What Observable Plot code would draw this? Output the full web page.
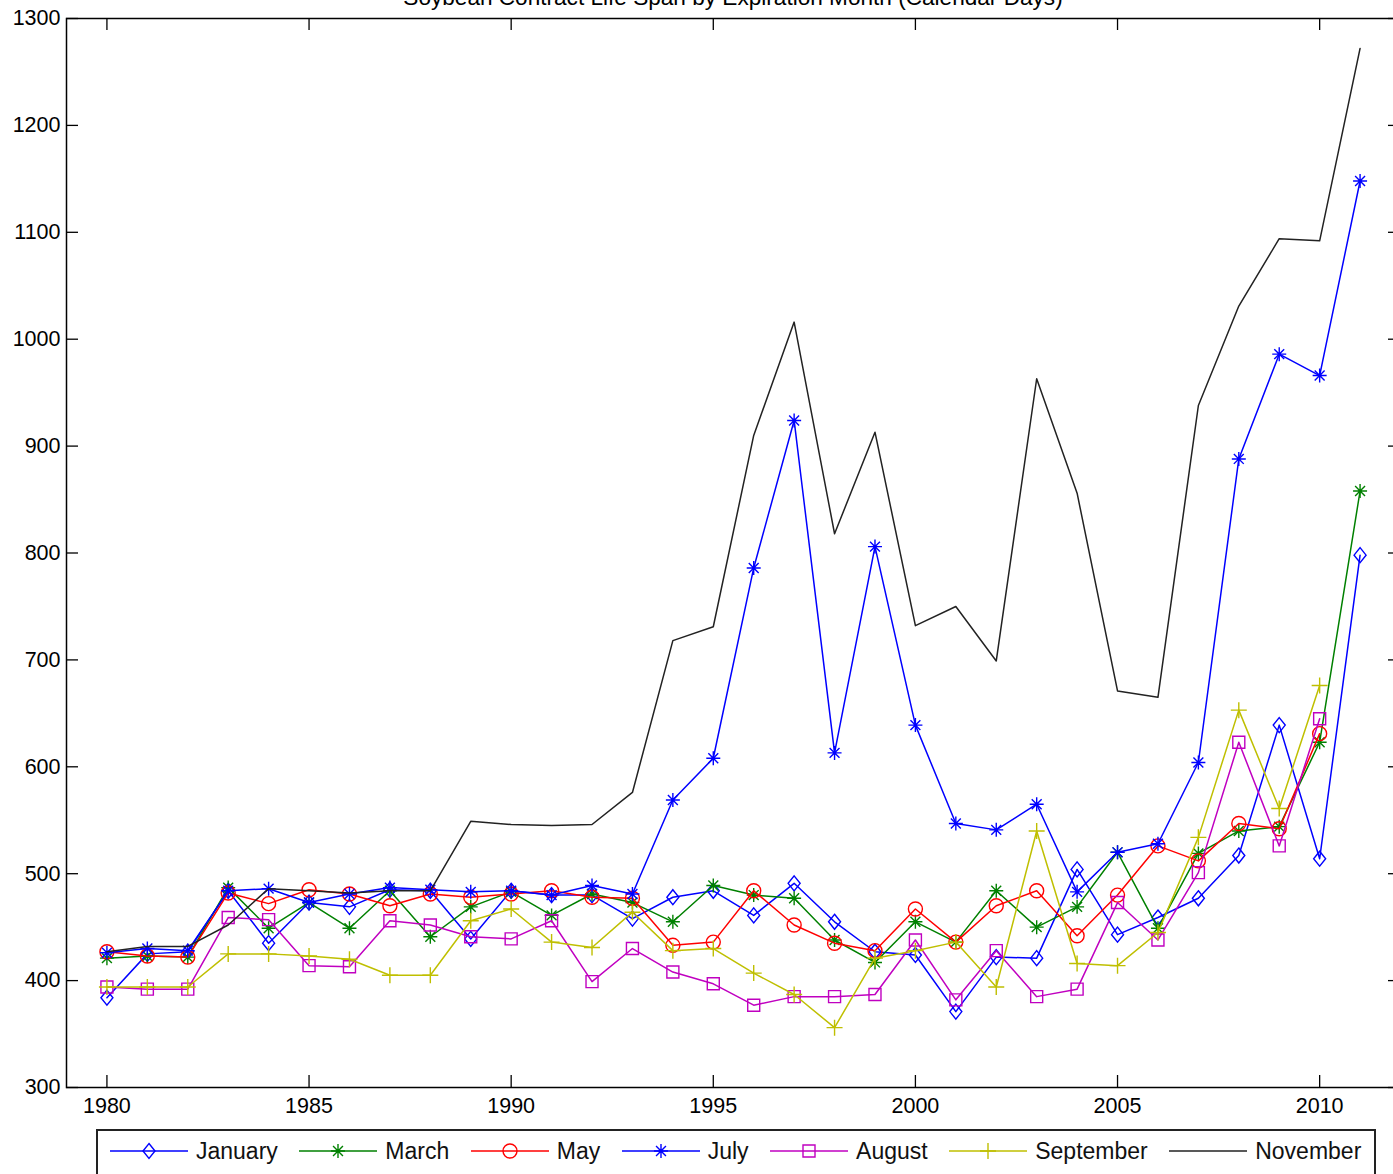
<!DOCTYPE html>
<html>
<head>
<meta charset="utf-8">
<script src="https://cdn.jsdelivr.net/npm/d3@7"></script>
<script src="https://cdn.jsdelivr.net/npm/@observablehq/plot@0.6"></script>
<style>
  html, body { margin: 0; padding: 0; background: #fff; overflow: hidden; }
  #wrap { position: relative; width: 1393px; height: 1174px; overflow: hidden; background: #fff; }
  #title { position: absolute; z-index: 5; top: -13px; left: 66px; width: 1334px; text-align: center;
           font-family: "Liberation Sans", Arial, sans-serif; font-size: 22.6px; line-height: 22.6px; color: #000; white-space: nowrap; }
  #chart { position: absolute; top: 0; left: 0; width: 1400px; z-index: 1; }
  #chart svg { max-width: none !important; }
  #legend { position: absolute; top: 1129px; left: 96px; width: 1264px; height: 44px;
            border: 2px solid #222; box-sizing: content-box; display: flex; align-items: center;
            padding: 0 0 0 12px; margin: 0;
            font-family: "Liberation Sans", Arial, sans-serif; font-size: 23px; color: #111; }
  #legend .item { display: flex; align-items: center; margin-right: 21.5px; height: 30px; margin-top: -4px; }
  #legend svg { display: block; margin-right: 8px; }
</style>
</head>
<body>
<div id="wrap">
  <div id="chart"></div>
  <div id="title">Soybean Contract Life Span by Expiration Month (Calendar Days)</div>
  <div id="legend"></div>
</div>
<script>
// ---- data ----
const years = d3.range(1980, 2012);
const seriesNames = ["January", "March", "May", "July", "August", "September", "November"];
const january   = [384, 425, 427, 484, 435, 473, 469, 485, 484, 439, 484, 480, 480, 458, 478, 484, 461, 491, 455, 427, 424, 371, 422, 421, 504, 443, 459, 477, 517, 639, 514, 798];
const march     = [421, 423, 422, 487, 449, 473, 449, 484, 441, 469, 483, 461, 481, 473, 455, 489, 480, 477, 438, 417, 455, 436, 484, 450, 469, 520, 449, 519, 540, 544, 623, 858];
const may       = [427, 423, 422, 482, 472, 485, 481, 470, 481, 478, 481, 484, 478, 477, 433, 436, 484, 452, 435, 428, 467, 436, 470, 484, 442, 480, 526, 512, 547, 542, 631];
const july      = [426, 430, 428, 484, 486, 473, 481, 487, 485, 483, 484, 480, 489, 481, 569, 608, 786, 924, 613, 806, 639, 547, 541, 565, 483, 520, 528, 604, 888, 986, 966, 1148];
const august    = [394, 392, 392, 459, 457, 414, 413, 456, 452, 441, 439, 456, 399, 430, 408, 397, 377, 385, 385, 387, 438, 382, 428, 385, 392, 473, 438, 501, 623, 526, 645];
const september = [394, 394, 394, 425, 425, 423, 420, 405, 405, 456, 467, 436, 431, 464, 428, 430, 407, 387, 356, 421, 428, 436, 394, 540, 416, 414, 445, 534, 653, 561, 676];
const november  = [427, 432, 432, 452, 486, 484, 482, 484, 484, 549, 546, 545, 546, 576, 718, 731, 910, 1016, 818, 913, 732, 750, 699, 963, 856, 671, 665, 938, 1031, 1094, 1092, 1272];
const xTicks = [1980, 1985, 1990, 1995, 2000, 2005, 2010];
const yTicks = [300, 400, 500, 600, 700, 800, 900, 1000, 1100, 1200, 1300];

// ---- marker shapes (MATLAB-like) ----
const symDiamond = {draw(c, size) { const s = Math.sqrt(size / Math.PI);
  c.moveTo(0, -s); c.lineTo(0.8 * s, 0); c.lineTo(0, s); c.lineTo(-0.8 * s, 0); c.closePath(); }};
const symStar = {draw(c, size) { const s = Math.sqrt(size / Math.PI); const d = s * 0.7071;
  c.moveTo(0, -s); c.lineTo(0, s); c.moveTo(-s, 0); c.lineTo(s, 0);
  c.moveTo(-d, -d); c.lineTo(d, d); c.moveTo(-d, d); c.lineTo(d, -d); }};
const symCircle = {draw(c, size) { const s = Math.sqrt(size / Math.PI);
  c.moveTo(s, 0); c.arc(0, 0, s, 0, 2 * Math.PI); }};
const symSquare = {draw(c, size) { const s = Math.sqrt(size / Math.PI);
  c.rect(-s, -s, 2 * s, 2 * s); }};
const symPlus = {draw(c, size) { const s = Math.sqrt(size / Math.PI);
  c.moveTo(0, -s); c.lineTo(0, s); c.moveTo(-s, 0); c.lineTo(s, 0); }};

const styles = {
  January:   {values: january,   color: "#0000ff", symbol: symDiamond, r: 7.5},
  March:     {values: march,     color: "#008000", symbol: symStar,    r: 7},
  May:       {values: may,       color: "#ff0000", symbol: symCircle,  r: 7},
  July:      {values: july,      color: "#0000ff", symbol: symStar,    r: 7},
  August:    {values: august,    color: "#c000c0", symbol: symSquare,  r: 6},
  September: {values: september, color: "#bfbf00", symbol: symPlus,    r: 8},
  November:  {values: november,  color: "#222222", symbol: null,       r: 0}
};

const marks = [];
for (const name of seriesNames) {
  const st = styles[name];
  const rows = st.values.map((v, i) => ({year: years[i], value: v}));
  marks.push(Plot.line(rows, {x: "year", y: "value", stroke: st.color, strokeWidth: 1.5}));
  if (st.symbol) marks.push(Plot.dot(rows, {x: "year", y: "value", symbol: st.symbol, r: st.r, stroke: st.color, fill: "none", strokeWidth: 1.4}));
}

const W = 1400, H = 1120, mL = 66, mR = 0, mT = 18, mB = 33;
const innerW = W - mL - mR, innerH = H - mT - mB, tick = 12;

const chart = Plot.plot({
  width: W, height: H,
  marginLeft: mL, marginRight: mR, marginTop: mT, marginBottom: mB,
  x: {domain: [1979, 2012], label: null},
  y: {domain: [300, 1300], label: null},
  style: {fontFamily: "'Liberation Sans', Arial, sans-serif", fontSize: "21.5px", color: "#000", background: "#fff", overflow: "visible", maxWidth: "none"},
  marks: [
    ...marks,
    Plot.tickX(xTicks, {x: d => d, stroke: "#000", strokeWidth: 1.3, insetTop: innerH - tick}),
    Plot.tickX(xTicks, {x: d => d, stroke: "#000", strokeWidth: 1.3, insetBottom: innerH - tick}),
    Plot.tickY(yTicks, {y: d => d, stroke: "#000", strokeWidth: 1.3, insetRight: innerW - tick}),
    Plot.tickY(yTicks, {y: d => d, stroke: "#000", strokeWidth: 1.3, insetLeft: innerW - tick}),
    Plot.frame({stroke: "#000", strokeWidth: 1.5}),
    Plot.axisX(xTicks, {tickSize: 0, tickPadding: 10, tickFormat: "d", fill: "#000"}),
    Plot.axisY(yTicks, {tickSize: 0, tickPadding: 6, tickFormat: "d", fill: "#000"})
  ]
});
chart.style.maxWidth = "none";
document.getElementById("chart").appendChild(chart);

// ---- legend ----
const legend = d3.select("#legend");
for (const name of seriesNames) {
  const st = styles[name];
  const item = legend.append("div").attr("class", "item");
  const svg = item.append("svg").attr("width", 78).attr("height", 30);
  svg.append("line").attr("x1", 0).attr("x2", 78).attr("y1", 15).attr("y2", 15)
     .attr("stroke", st.color).attr("stroke-width", 1.5);
  if (st.symbol) {
    svg.append("path").attr("transform", "translate(39,15)")
       .attr("d", d3.symbol(st.symbol, Math.PI * st.r * st.r)())
       .attr("fill", "none").attr("stroke", st.color).attr("stroke-width", 1.4);
  }
  item.append("span").text(name);
}
</script>
</body>
</html>
